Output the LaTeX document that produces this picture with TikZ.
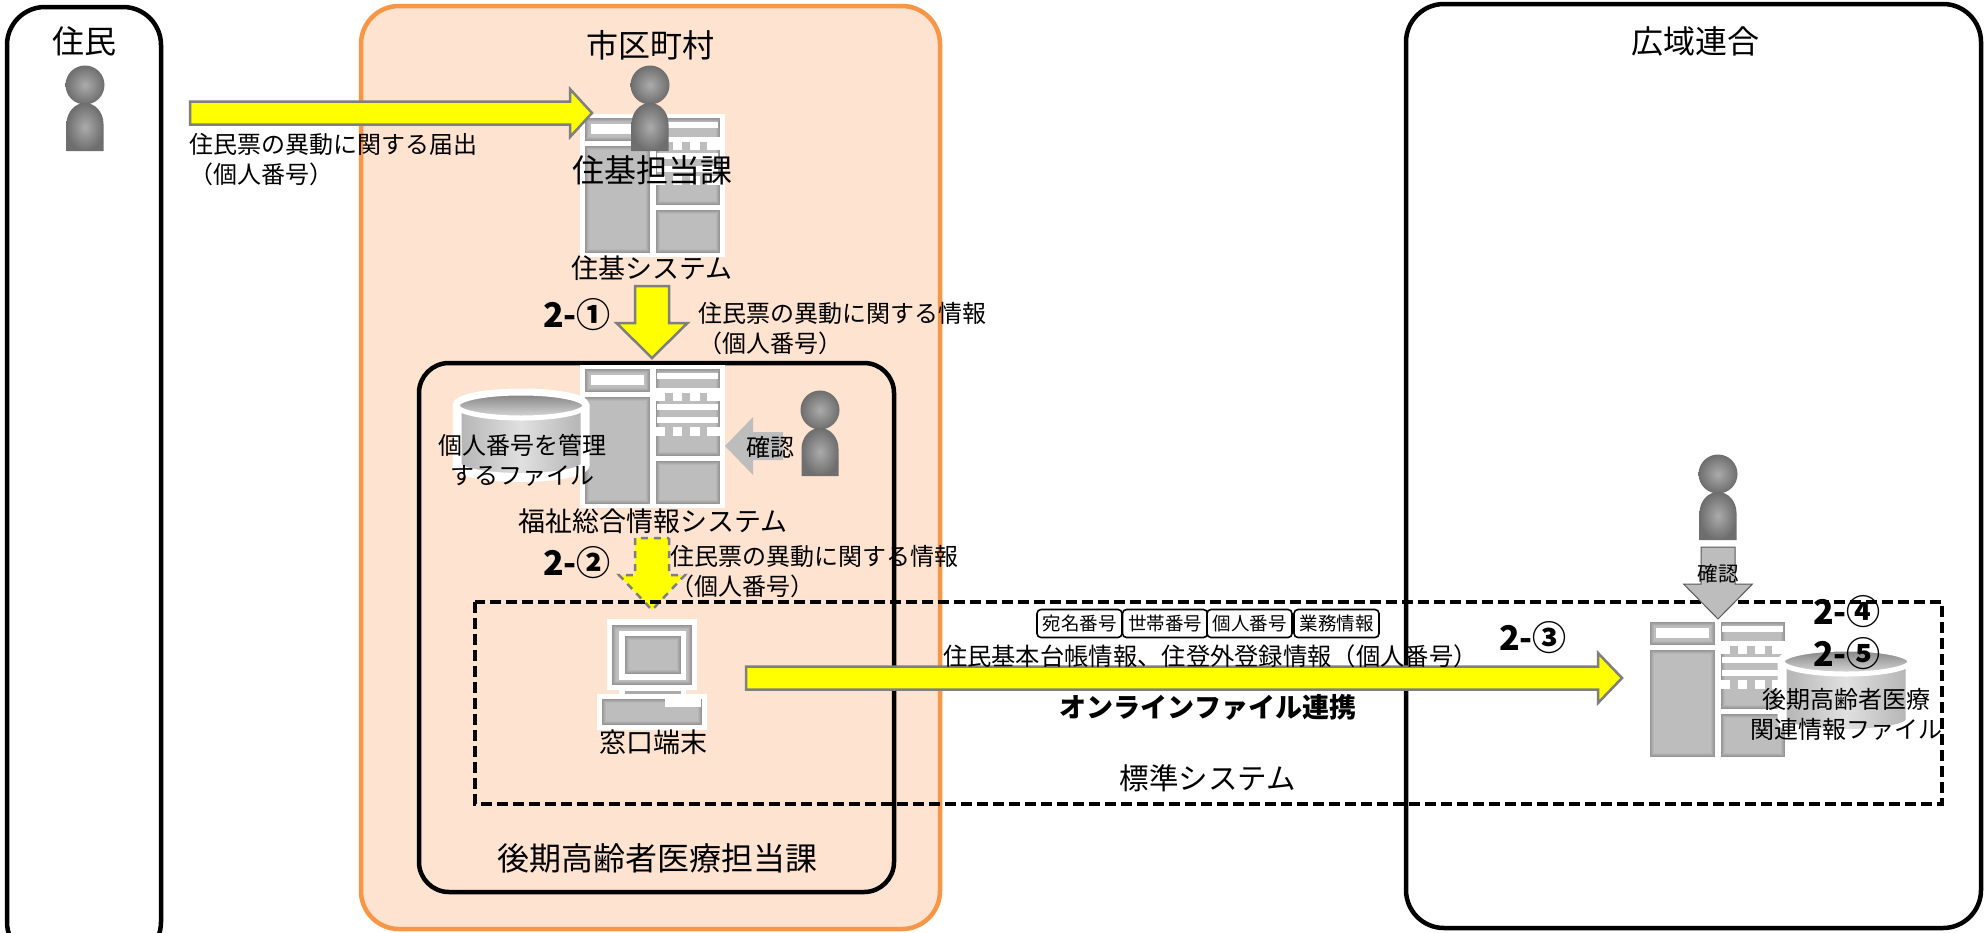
\documentclass[tikz,border=0pt]{standalone}
\usepackage{fontspec}
\setmainfont{Noto Sans CJK JP}
\usetikzlibrary{calc}
\definecolor{orangefill}{HTML}{FDE3D0}
\definecolor{orangeline}{HTML}{F79646}
\definecolor{arrowline}{HTML}{7F7F7F}
\definecolor{blockgray}{HTML}{BDBDBD}
\definecolor{pureyellow}{RGB}{255,255,0}
\definecolor{gA}{HTML}{969696}
\definecolor{gB}{HTML}{A0A0A0}
\definecolor{gC}{HTML}{ABABAB}
\definecolor{gD}{HTML}{B5B5B5}
\tikzset{
  x=1pt,y=-1pt,
  areabox/.style={line width=4.5pt,rounded corners=38pt},
  txt/.style={inner sep=0pt,outer sep=0pt,font=\fontsize{24}{30}\selectfont},
  txtB/.style={txt,font=\fontsize{32}{36}\selectfont},
  txtM/.style={txt,font=\fontsize{27}{30}\selectfont},
  stepno/.style={txt,font=\fontsize{34}{38}\selectfont\bfseries},
  tagbox/.style={draw=black,line width=1.6pt,rounded corners=4pt,fill=white,inner sep=0pt,
    minimum width=85pt,minimum height=28pt,font=\fontsize{18.5}{22}\selectfont},
  yarrow/.style={fill=pureyellow,draw=arrowline,line width=2.5pt,line join=miter},
  yarrowd/.style={fill=pureyellow,draw=none},
  garrow/.style={fill=blockgray,draw=none},
  garrowl/.style={fill=blockgray,draw=black!65,line width=1pt},
  dashbox/.style={draw=black,line width=3.6pt,dash pattern=on 11pt off 5pt},
  persona/.style={inner color=black!33,outer color=black!57,draw=none}
}
% rightward block arrow: from, to, half shaft, half head, head length, style
\newcommand\rightblock[6]{\path[#6] let \p1=(#1),\p2=(#2) in
  (\x1,\y1+#3pt) -- (\x2-#5pt,\y1+#3pt) -- (\x2-#5pt,\y1+#4pt) -- (\x2,\y1)
  -- (\x2-#5pt,\y1-#4pt) -- (\x2-#5pt,\y1-#3pt) -- (\x1,\y1-#3pt) -- cycle;}
\newcommand\downblock[6]{\path[#6] let \p1=(#1),\p2=(#2) in
  (\x1+#3pt,\y1) -- (\x1+#3pt,\y2+#5pt) -- (\x1+#4pt,\y2+#5pt) -- (\x1,\y2)
  -- (\x1-#4pt,\y2+#5pt) -- (\x1-#3pt,\y2+#5pt) -- (\x1-#3pt,\y1) -- cycle;}
\newcommand\leftblock[6]{\path[#6] let \p1=(#1),\p2=(#2) in
  (\x1,\y1+#3pt) -- (\x2+#5pt,\y1+#3pt) -- (\x2+#5pt,\y1+#4pt) -- (\x2,\y1)
  -- (\x2+#5pt,\y1-#4pt) -- (\x2+#5pt,\y1-#3pt) -- (\x1,\y1-#3pt) -- cycle;}
% gray block with a dark inner edge
\newcommand\gblock[4]{%
  \fill[gA] (#1,#2) rectangle (#3,#4);
  \fill[gB] ({#1+1},{#2+1}) rectangle ({#3-1},{#4-1});
  \fill[gC] ({#1+2},{#2+2}) rectangle ({#3-2},{#4-2});
  \fill[gD] ({#1+3},{#2+3}) rectangle ({#3-3},{#4-3});
  \fill[blockgray] ({#1+4},{#2+4}) rectangle ({#3-4},{#4-4});}
% server icon: top-left corner of the gray part
\newcommand\servericon[2]{\begin{scope}[shift={(#1,#2)}]
  \fill[white] (-5,-4.5) rectangle (140,139);
  \gblock{0}{0}{65}{23}
  \gblock{0}{28}{65}{135}
  \gblock{71}{0}{135}{87}
  \gblock{71}{92}{135}{135}
  \fill[white] (6,6) rectangle (59,16);
  \fill[white] (72,4) rectangle (133,10);
  \fill[white] (71,19) rectangle (135,24);
  \foreach \a/\b in {71/80,88/97,105/115,122/135}{\fill[white] (\a,24) rectangle (\b,32);
    \fill[white] (\a,58) rectangle (\b,67);}
  \fill[white] (72,35) rectangle (133,41);
  \fill[white] (72,48) rectangle (133,54);
\end{scope}}
% person icon: centre x, top y
\newcommand\personicon[2]{\begin{scope}[shift={(#1,#2)}]
  \path[persona] (0,19) circle[radius=19.5pt];
  \path[persona] (-18.5,85) -- (-18.5,58) .. controls (-18.5,46) and (-10,37) .. (0,37)
    .. controls (10,37) and (18.5,46) .. (18.5,58) -- (18.5,85) -- cycle;
\end{scope}}
% cylinder icon: left x, top y
\newcommand\cylicon[2]{\begin{scope}[shift={(#1,#2)}]
  \path[draw=white,line width=9pt,left color=black!30,right color=black!30,middle color=black!12]
    (0,12.5) -- (0,72) arc[start angle=180,end angle=360,x radius=64pt,y radius=12.5pt] -- (128,12.5)
    arc[start angle=0,end angle=180,x radius=64pt,y radius=12.5pt] -- cycle;
  \path[draw=white,line width=5pt,top color=black!50,bottom color=black!14]
    (64,12.5) ellipse[x radius=64pt,y radius=12.5pt];
\end{scope}}
\begin{document}
\begin{tikzpicture}
\useasboundingbox (0,0) rectangle (1985,932);
\fill[white] (0,0) rectangle (1985,932);
% area boxes
\draw[areabox,draw=black] (7,7) rectangle (161,960);
\draw[areabox,draw=orangeline,fill=orangefill] (361,6) rectangle (940,929);
\draw[areabox,draw=black] (1406,4) rectangle (1981,928);
\draw[areabox,draw=black,rounded corners=30pt] (419,363) rectangle (894,892);
% icons
\personicon{85}{66}
\servericon{585}{118}
\personicon{650}{66}
\servericon{585}{369}
\cylicon{457}{393}
\personicon{820}{391}
% arrow 2-1
\coordinate (a1s) at (652,286); \coordinate (a1e) at (652,358);
\downblock{a1s}{a1e}{17}{35.5}{35}{yarrow}
% arrow 1
\coordinate (a0s) at (190,113); \coordinate (a0e) at (592,113);
\rightblock{a0s}{a0e}{11.5}{24}{22}{yarrow}
% arrow confirm left
\coordinate (cls) at (783,446); \coordinate (cle) at (725,446);
\leftblock{cls}{cle}{14}{29}{28}{garrow}
% arrow 2-2
\coordinate (a2s) at (652,538); \coordinate (a2e) at (652,610);
\downblock{a2s}{a2e}{17}{33}{35}{yarrowd}
\downblock{a2s}{a2e}{17}{33}{35}{draw=arrowline,line width=2.5pt,dash pattern=on 7pt off 6pt}
% computer
\fill[white] (607,619) rectangle (697,690);
\fill[white] (619,690) rectangle (686,695);
\fill[white] (597,694) rectangle (707,730);
\gblock{612}{625}{692}{685}
\fill[white] (619,631) rectangle (686,680);
\gblock{625}{636}{681}{674}
\fill[gC] (625,691) rectangle (681,694);
\gblock{602}{699}{702}{725}
\fill[white] (665,699) rectangle (701,707);
% second server and cylinder
\servericon{1650}{622}
\cylicon{1782}{649}
% dashed system box
\draw[dashbox] (475,602) rectangle (1942,804);
% arrow confirm right
\coordinate (crs) at (1718,547); \coordinate (cre) at (1718,619);
\downblock{crs}{cre}{17}{34.5}{35}{garrowl}
% arrow 2-3
\coordinate (a3s) at (746,678); \coordinate (a3e) at (1622,678);
\rightblock{a3s}{a3e}{11.5}{25}{24}{yarrow}
% tags
\node[tagbox] (tagA) at (1079.5,623.5) {宛名番号};
\node[tagbox] (tagB) at (1165,623.5) {世帯番号};
\node[tagbox] (tagC) at (1249.5,623.5) {個人番号};
\node[tagbox] (tagD) at (1336.5,623.5) {業務情報};
% labels
\node[txtB] (tResident) at (84.5,41) {住民};
\node[txtB] (tCity) at (650,45) {市区町村};
\node[txtB] (tRegion) at (1695,41) {広域連合};
\node[txtB] (tJuki) at (652,170) {住基担当課};
\node[txtM] (tJukiSys) at (652,268) {住基システム};
\node[txt,anchor=west,align=left] (tNotice) at (189,160) {住民票の異動に関する届出\\（個人番号）};
\node[stepno] (s1) at (577,315) {2-①};
\node[txt,anchor=west,align=left] (tInfoA) at (698,329) {住民票の異動に関する情報\\（個人番号）};
\node[txt,align=center] (tFile) at (522,460) {個人番号を管理\\するファイル};
\node[txt] (tConfA) at (770.5,447) {確認};
\node[txtM] (tWelfare) at (653,521) {福祉総合情報システム};
\node[stepno] (s2) at (577,563) {2-②};
\node[txt,anchor=west,align=left] (tInfoB) at (670,572) {住民票の異動に関する情報\\（個人番号）};
\node[txtM] (tTerm) at (653,742) {窓口端末};
\node[txtB] (tDept) at (657,858) {後期高齢者医療担当課};
\node[txt,anchor=west,font=\fontsize{24.3}{30}\selectfont] (tReg) at (943,656) {住民基本台帳情報、住登外登録情報（個人番号）};
\node[txt,font=\fontsize{27}{30}\selectfont\bfseries] (tOnline) at (1208,707) {オンラインファイル連携};
\node[txt,font=\fontsize{29.5}{34}\selectfont] (tStd) at (1208,778) {標準システム};
\node[stepno] (s3) at (1533,638) {2-③};
\node[stepno] (s4) at (1847,612) {2-④};
\node[stepno] (s5) at (1847,654) {2-⑤};
\node[txt,font=\fontsize{20.5}{24}\selectfont] (tConfB) at (1718,574) {確認};
\node[txt,align=center] (tHealth) at (1846,714) {後期高齢者医療\\関連情報ファイル};
\personicon{1718}{455}
\end{tikzpicture}
\end{document}
